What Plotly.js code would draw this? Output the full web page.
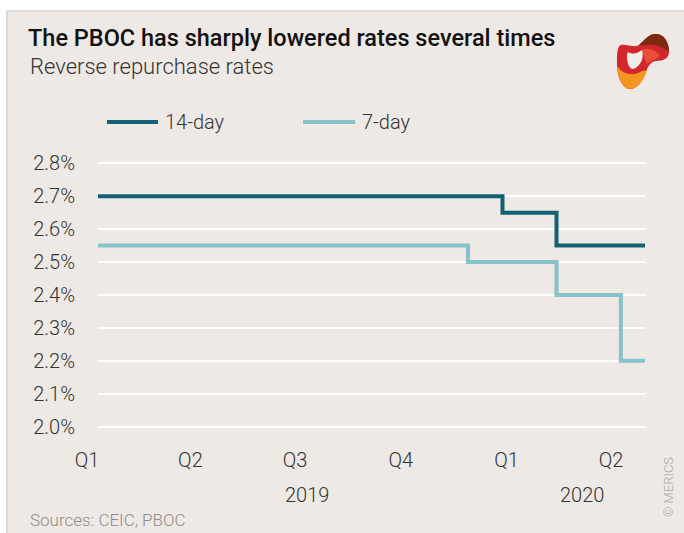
<!DOCTYPE html>
<html>
<head>
<meta charset="utf-8">
<script src="https://cdn.plot.ly/plotly-3.0.1.min.js"></script>
<style>
html,body{margin:0;padding:0;background:#ffffff;width:684px;height:533px;overflow:hidden;}
#frame{position:absolute;left:6px;top:10px;width:678px;height:523px;background:#eee9e4;border-left:2px solid #d9d9d9;border-top:2px solid #e0e0e0;box-sizing:border-box;}
#chart{position:absolute;left:0;top:0;width:684px;height:533px;}
</style>
</head>
<body>
<div id="frame"></div>
<div id="chart"></div>
<script>
// ---- data ----
const seriesNames = ['14-day', '7-day'];
const dates14 = ['2019-01-01', '2019-12-19', '2020-02-04', '2020-04-21'];
const rates14 = [2.70, 2.65, 2.55, 2.55];
const dates7 = ['2019-01-01', '2019-11-19', '2020-02-04', '2020-03-31', '2020-04-21'];
const rates7 = [2.55, 2.50, 2.40, 2.20, 2.20];
const quarterDates = ['2019-01-01', '2019-04-01', '2019-07-01', '2019-10-01', '2020-01-01', '2020-04-01'];
const quarterLabels = ['Q1', 'Q2', 'Q3', 'Q4', 'Q1', 'Q2'];
const yearLabels = ['2019', '2020'];
const yearCenters = ['2019-07-02', '2020-02-26'];
const yTicks = [2.0, 2.1, 2.2, 2.3, 2.4, 2.5, 2.6, 2.7, 2.8];

// ---- layout geometry ----
const W = 684, H = 533;
const M = {l: 98, r: 39, t: 160, b: 103};
const pw = W - M.l - M.r, ph = H - M.t - M.b;
const px = x => (x - M.l) / pw;
const py = y => (H - M.b - y) / ph;

const c14 = '#135f74', c7 = '#87c1ca';
const FONT = '"Roboto", "Liberation Sans Narrow", sans-serif';
const LIGHT = 300;

const traces = [
  {x: dates14, y: rates14, name: seriesNames[0], type: 'scatter', mode: 'lines',
   line: {shape: 'hv', color: c14, width: 4}, hoverinfo: 'skip'},
  {x: dates7, y: rates7, name: seriesNames[1], type: 'scatter', mode: 'lines',
   line: {shape: 'hv', color: c7, width: 4}, hoverinfo: 'skip'}
];

// logo path helper: pixel-space SVG path -> paper space
function toPaper(d) {
  return d.replace(/(-?\d+(?:\.\d+)?),(-?\d+(?:\.\d+)?)/g,
    (m, a, b) => px(+a).toFixed(4) + ',' + py(+b).toFixed(4));
}
const logoRed = 'M 621,45 C 627,44 633,48 639,45 C 645,40 648,34 656,34 C 664,34 669,42 669,52 C 669,58 664,61 656,61 C 650,62 648,66 645,74 C 642,82 637,89 630,89 C 623,89 617,78 617,64 C 617,55 617,46 621,45 Z';
const logoBrown = 'M 639,45 C 645,40 648,34 656,34 C 664,34 669,42 669,52 C 665,49 660,46 653,45 C 647,44 643,46 639,45 Z';
const logoOrange = 'M 617,66 C 622,73 631,77 640,72 C 643,70 645,71 647,70 C 644,80 638,89 630,89 C 623,89 618,78 617,66 Z';
const logoMid = 'M 642,50 C 648,47 656,50 660,56 C 655,60 650,61 647,64 C 645,60 644,55 642,50 Z';
const logoHole = 'M 628,52 C 633,55 638,53 642,50 C 644,56 642,62 638,66 C 634,70 631,70 629,66 C 627,62 626,55 628,52 Z';

const shapes = [
  {type: 'line', xref: 'paper', yref: 'paper', x0: px(107), x1: px(158), y0: py(122), y1: py(122), line: {color: c14, width: 4}},
  {type: 'line', xref: 'paper', yref: 'paper', x0: px(303), x1: px(355), y0: py(122), y1: py(122), line: {color: c7, width: 4}},
  {type: 'path', xref: 'paper', yref: 'paper', path: toPaper(logoRed), fillcolor: '#d3262e', line: {width: 0}},
  {type: 'path', xref: 'paper', yref: 'paper', path: toPaper(logoBrown), fillcolor: '#7e2a12', line: {width: 0}},
  {type: 'path', xref: 'paper', yref: 'paper', path: toPaper(logoMid), fillcolor: '#e8503a', line: {width: 0}},
  {type: 'path', xref: 'paper', yref: 'paper', path: toPaper(logoOrange), fillcolor: '#f2961f', line: {width: 0}},
  {type: 'path', xref: 'paper', yref: 'paper', path: toPaper(logoHole), fillcolor: '#f1ede9', line: {width: 0}}
];

const tf = (size, color) => ({size: size, color: color, family: FONT, weight: LIGHT});

const annotations = [
  {xref: 'paper', yref: 'paper', x: px(163), y: py(122), xanchor: 'left', yanchor: 'middle', text: seriesNames[0], showarrow: false, font: tf(20, '#333333')},
  {xref: 'paper', yref: 'paper', x: px(360), y: py(122), xanchor: 'left', yanchor: 'middle', text: seriesNames[1], showarrow: false, font: tf(20, '#333333')},
  {xref: 'x', yref: 'paper', x: yearCenters[0], y: py(495), xanchor: 'center', yanchor: 'middle', text: yearLabels[0], showarrow: false, font: tf(20, '#333333')},
  {xref: 'x', yref: 'paper', x: yearCenters[1], y: py(495), xanchor: 'center', yanchor: 'middle', text: yearLabels[1], showarrow: false, font: tf(20, '#333333')},
  {xref: 'paper', yref: 'paper', x: px(28), y: py(520), xanchor: 'left', yanchor: 'middle', text: 'Sources: CEIC, PBOC', showarrow: false, font: tf(17, '#8c8c8c')},
  {xref: 'paper', yref: 'paper', x: px(668), y: py(487), xanchor: 'center', yanchor: 'middle', text: '© MERICS', textangle: -90, showarrow: false, font: tf(13, '#a8a8a8')},
  {xref: 'paper', yref: 'paper', x: px(28), y: py(67), xanchor: 'left', yanchor: 'middle', text: 'Reverse repurchase rates', showarrow: false, font: tf(22, '#333333')}
];

const layout = {
  width: W, height: H,
  margin: M,
  paper_bgcolor: 'rgba(0,0,0,0)',
  plot_bgcolor: 'rgba(0,0,0,0)',
  font: {family: FONT, color: '#333333'},
  showlegend: false,
  title: {text: 'The PBOC has sharply lowered rates several times', xref: 'container', yref: 'container',
          x: 28 / W, xanchor: 'left', y: 1 - 38 / H, yanchor: 'middle',
          font: {size: 23.5, color: '#111111', family: FONT, weight: 500}},
  xaxis: {
    type: 'date', range: ['2019-01-01', '2020-04-21'],
    tickmode: 'array', tickvals: quarterDates, ticktext: quarterLabels,
    showgrid: false, zeroline: false, showline: false,
    ticks: 'outside', ticklen: 12, tickcolor: 'rgba(0,0,0,0)',
    ticklabelshift: -11,
    tickfont: tf(20, '#333333')
  },
  yaxis: {
    range: [1.99, 2.81],
    tickmode: 'array', tickvals: yTicks, ticktext: yTicks.map(v => v.toFixed(1) + '%'),
    showgrid: true, gridcolor: '#ffffff', gridwidth: 2,
    zeroline: false, showline: false,
    ticks: 'outside', ticklen: 18, tickcolor: 'rgba(0,0,0,0)',
    tickfont: tf(20, '#333333')
  },
  shapes: shapes,
  annotations: annotations
};

Plotly.newPlot('chart', traces, layout, {displayModeBar: false, staticPlot: true});
</script>
</body>
</html>
